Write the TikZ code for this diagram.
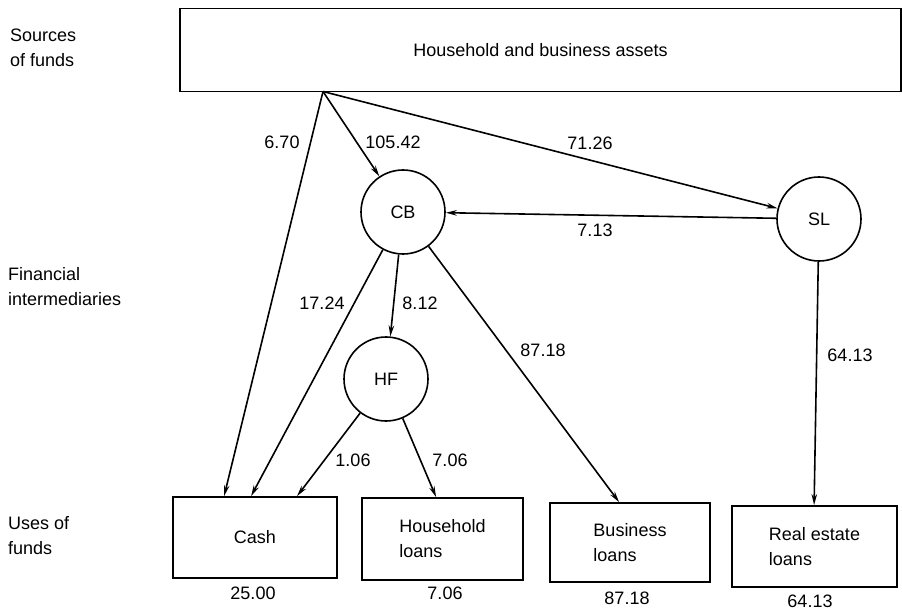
\documentclass[tikz,border=0pt]{standalone}
\usepackage{fontspec}
\setmainfont{Liberation Sans}
\usetikzlibrary{arrows.meta,calc}
\begin{document}
\begin{tikzpicture}[x=1pt,y=-1pt,
  every node/.style={font=\fontsize{18}{25}\selectfont},
  box/.style={draw,line width=1.8pt,inner sep=0pt,align=left},
  circ/.style={draw,circle,line width=1.6pt,minimum size=84pt,inner sep=0pt},
  flow/.style={line width=1.6pt,-{Stealth[length=11pt,width=5.5pt]}},
  lab/.style={inner sep=1pt},
  side/.style={anchor=west,align=left,inner sep=0pt}]
\useasboundingbox (0,0) rectangle (902,612);

% side labels
\node[side] (s1) at (10,48) {Sources\\of funds};
\node[side] (s2) at (8,287) {Financial\\intermediaries};
\node[side] (s3) at (8,536) {Uses of\\funds};

% source box
\node[box,minimum width=721pt,minimum height=83pt,align=center] (src) at (540.5,50) {Household and business assets};
\coordinate (F) at (323,91.5);

% intermediaries
\node[circ] (CB) at (403,212) {CB};
\node[circ] (SL) at (819,219) {SL};
\node[circ] (HF) at (386,379) {HF};

% uses
\node[box,minimum width=164pt,minimum height=81pt] (cash) at (255,537.5) {Cash};
\node[box,minimum width=161pt,minimum height=82pt] (hl) at (442.5,539) {Household\\loans};
\node[box,minimum width=160pt,minimum height=79pt] (bl) at (630,542.5) {Business\\loans};
\node[box,minimum width=165pt,minimum height=81pt] (rel) at (814.5,546.5) {Real estate\\loans};

% totals
\node[lab] (t1) at (253,593) {25.00};
\node[lab] (t2) at (445,593) {7.06};
\node[lab] (t3) at (627,598) {87.18};
\node[lab] (t4) at (810,601) {64.13};

% flows
\draw[flow] (F) -- ($(cash.north west)+(52,0)$);
\draw[flow] (F) -- (CB);
\draw[flow] (F) -- (SL);
\draw[flow] (SL) -- (CB);
\draw[flow] (CB) -- ($(cash.north west)+(79,0)$);
\draw[flow] (CB) -- (HF);
\draw[flow] (CB) -- ($(bl.north west)+(70,0)$);
\draw[flow] (HF) -- ($(cash.north west)+(125,0)$);
\draw[flow] (HF) -- ($(hl.north west)+(75,0)$);
\draw[flow] (SL) -- ($(rel.north west)+(83,0)$);

% flow labels
\node[lab] (l1) at (282,142) {6.70};
\node[lab] (l2) at (393,142) {105.42};
\node[lab] (l3) at (590,143) {71.26};
\node[lab] (l4) at (595,230) {7.13};
\node[lab] (l5) at (322,303) {17.24};
\node[lab] (l6) at (420,303) {8.12};
\node[lab] (l7) at (543,350) {87.18};
\node[lab] (l8) at (353,460) {1.06};
\node[lab] (l9) at (450,460) {7.06};
\node[lab] (l10) at (850,355) {64.13};
\end{tikzpicture}
\end{document}
